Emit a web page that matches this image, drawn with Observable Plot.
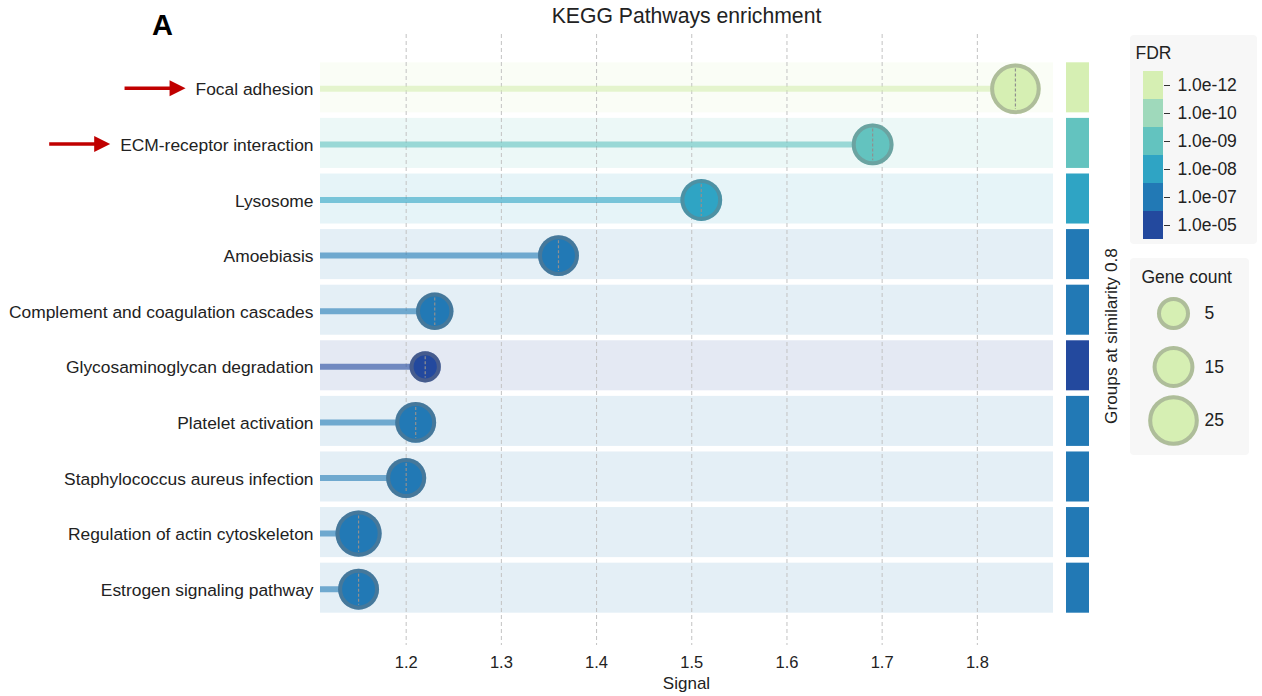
<!DOCTYPE html>
<html><head><meta charset="utf-8">
<script src="https://cdn.jsdelivr.net/npm/d3@7"></script>
<script src="https://cdn.jsdelivr.net/npm/@observablehq/plot@0.6"></script>
<style>
html,body{margin:0;padding:0;background:#fff;}
#wrap{position:relative;width:1262px;height:696px;overflow:hidden;background:#fff;font-family:"Liberation Sans",Arial,Helvetica,sans-serif;color:#222;}
#wrap > *{position:absolute;}
.box{background:#f7f7f7;border-radius:4px;}
.lt{font-size:17.5px;color:#222;white-space:nowrap;line-height:1;}
</style></head><body><div id="wrap"></div>
<script>
// ---------- data ----------
const pathways = ["Focal adhesion", "ECM-receptor interaction", "Lysosome", "Amoebiasis",
  "Complement and coagulation cascades", "Glycosaminoglycan degradation", "Platelet activation",
  "Staphylococcus aureus infection", "Regulation of actin cytoskeleton", "Estrogen signaling pathway"];
const signal = [1.84, 1.69, 1.51, 1.36, 1.23, 1.22, 1.21, 1.20, 1.15, 1.15];
const geneCount = [25, 15, 15, 14, 10, 3, 14, 13, 20, 14];
const fdr = ["1.0e-12", "1.0e-09", "1.0e-08", "1.0e-07", "1.0e-07", "1.0e-05", "1.0e-07", "1.0e-07", "1.0e-07", "1.0e-07"];
const fdrLabels = ["1.0e-12", "1.0e-10", "1.0e-09", "1.0e-08", "1.0e-07", "1.0e-05"];
const fdrColors = ["#d6efb3", "#9fd9bb", "#63c3bf", "#2fa4c4", "#2279b5", "#23499e"];
const xTicks = [1.2, 1.3, 1.4, 1.5, 1.6, 1.7, 1.8];
const xDomain = [1.11, 1.88];
const legendCounts = [5, 15, 25];
const highlighted = ["Focal adhesion", "ECM-receptor interaction"];
const titleText = "KEGG Pathways enrichment";
const panelLabel = "A";
const xLabel = "Signal";
const groupLabel = "Groups at similarity 0.8";

const rows = pathways.map((name, i) => ({name, signal: signal[i], count: geneCount[i], fdr: fdr[i]}));

// ---------- shared scales ----------
const W = 1262, H = 696;
const font = "Liberation Sans, Arial, Helvetica, sans-serif";
const yOpts = {domain: pathways, range: [62.3, 612.7], paddingInner: 0.1, paddingOuter: 0, align: 0.5, round: false};
const colorOpts = {type: "ordinal", domain: fdrLabels, range: fdrColors};
const rOpts = {type: "linear", domain: [0, 25], range: [14.3, 25.3]};
// ring drawn just inside the bubble edge, and dashed centre line
const ring = {draw(ctx, size) { const r = Math.max(0, Math.sqrt(size / Math.PI) - 2); ctx.moveTo(r, 0); ctx.arc(0, 0, r, 0, 2 * Math.PI); ctx.closePath(); }};
const vline = {draw(ctx, size) { const r = Math.max(0, Math.sqrt(size / Math.PI) - 5); ctx.moveTo(0, -r); ctx.lineTo(0, r); }};
const ringStroke = {stroke: "#767676", strokeOpacity: 0.42, strokeWidth: 4};

const wrap = document.getElementById("wrap");

// ---------- main chart ----------
const main = Plot.plot({
  width: W, height: H,
  marginLeft: 320, marginRight: 209, marginTop: 34, marginBottom: 51,
  style: {background: "transparent", color: "#222", fontFamily: font, fontSize: "17px", overflow: "visible"},
  x: {domain: xDomain},
  y: yOpts,
  color: colorOpts,
  r: rOpts,
  marks: [
    Plot.cell(rows, {y: "name", fill: "fdr", fillOpacity: 0.12}),
    Plot.gridX(xTicks, {stroke: "#c2c2c2", strokeOpacity: 1, strokeWidth: 1, strokeDasharray: "4,3"}),
    Plot.ruleY(rows, {y: "name", x1: xDomain[0], x2: "signal", stroke: "fdr", strokeOpacity: 0.6, strokeWidth: 6, dy: 1}),
    Plot.dot(rows, {x: "signal", y: "name", r: "count", fill: "fdr", stroke: "none", sort: null, dy: 1}),
    Plot.dot(rows, {x: "signal", y: "name", r: "count", symbol: ring, fill: "none", ...ringStroke, sort: null, dy: 1}),
    Plot.dot(rows, {x: "signal", y: "name", r: "count", symbol: vline, fill: "none", stroke: "#909090", strokeWidth: 1.2, strokeDasharray: "3,2", sort: null, dy: 1}),
    Plot.axisX(xTicks, {tickSize: 0, tickPadding: 11, fontSize: 16.5, label: null, tickFormat: d3.format(".1f")}),
    Plot.axisY({tickSize: 0, tickPadding: 7, fontSize: 17.4, label: null, dy: 2})
  ]
});
main.style.left = "0px"; main.style.top = "0px";
wrap.appendChild(main);

// ---------- group strip ----------
const strip = Plot.plot({
  width: 23, height: H, margin: 0,
  style: {background: "transparent"},
  x: {axis: null}, y: {...yOpts, axis: null}, color: colorOpts,
  marks: [Plot.cell(rows, {y: "name", fill: "fdr"})]
});
strip.style.left = "1066px"; strip.style.top = "0px";
wrap.appendChild(strip);

// ---------- FDR legend ----------
const fdrBox = document.createElement("div");
fdrBox.className = "box";
Object.assign(fdrBox.style, {left: "1130px", top: "35px", width: "127px", height: "209px"});
wrap.appendChild(fdrBox);
const fdrTitle = document.createElement("div");
fdrTitle.className = "lt"; fdrTitle.textContent = "FDR";
Object.assign(fdrTitle.style, {left: "1135.5px", top: "44.5px"});
wrap.appendChild(fdrTitle);
const fdrLeg = Plot.plot({
  width: 110, height: 168, marginLeft: 0, marginRight: 90, marginTop: 0, marginBottom: 0,
  style: {background: "transparent", color: "#222", fontFamily: font, overflow: "visible"},
  x: {axis: null},
  y: {type: "band", domain: fdrLabels, padding: 0, round: false},
  color: colorOpts,
  marks: [
    Plot.cell(fdrLabels, {y: d => d, fill: d => d}),
    Plot.axisY({anchor: "right", tickSize: 6, tickPadding: 8, fontSize: 17.5, label: null, stroke: "#333"})
  ]
});
fdrLeg.style.left = "1142.5px"; fdrLeg.style.top = "70.5px";
wrap.appendChild(fdrLeg);

// ---------- Gene count legend ----------
const gcBox = document.createElement("div");
gcBox.className = "box";
Object.assign(gcBox.style, {left: "1130px", top: "258px", width: "119px", height: "197px"});
wrap.appendChild(gcBox);
const gcTitle = document.createElement("div");
gcTitle.className = "lt"; gcTitle.textContent = "Gene count";
Object.assign(gcTitle.style, {left: "1141.5px", top: "268.5px"});
wrap.appendChild(gcTitle);
const gcLeg = Plot.plot({
  width: 119, height: 197, marginLeft: 0, marginRight: 33, marginTop: 0, marginBottom: 0,
  style: {background: "transparent", color: "#222", fontFamily: font, overflow: "visible"},
  x: {axis: null},
  y: {type: "point", domain: legendCounts, range: [55, 162], padding: 0, round: false, axis: null},
  r: rOpts,
  marks: [
    Plot.dot(legendCounts, {y: d => d, r: d => d, fill: fdrColors[0], stroke: "none"}),
    Plot.dot(legendCounts, {y: d => d, r: d => d, symbol: ring, fill: "none", ...ringStroke}),
    Plot.text(legendCounts, {y: d => d, text: d => String(d), dx: 31, textAnchor: "start", fontSize: 17.5, fill: "#222"})
  ]
});
gcLeg.style.left = "1130px"; gcLeg.style.top = "258px";
wrap.appendChild(gcLeg);

// ---------- annotations overlay ----------
const ov = d3.create("svg").attr("width", W).attr("height", H)
  .style("left", "0px").style("top", "0px").style("pointer-events", "none")
  .style("font-family", font);
ov.append("text").attr("x", 686.5).attr("y", 23.3).attr("text-anchor", "middle")
  .attr("font-size", 21.2).attr("fill", "#222").text(titleText);
ov.append("text").attr("x", 152).attr("y", 35).attr("font-size", 29).attr("font-weight", "bold")
  .attr("fill", "#000").text(panelLabel);
ov.append("text").attr("x", 686.5).attr("y", 689).attr("text-anchor", "middle")
  .attr("font-size", 17).attr("fill", "#222").text(xLabel);
ov.append("text").attr("transform", "translate(1117,336) rotate(-90)").attr("text-anchor", "middle")
  .attr("font-size", 17.2).attr("fill", "#222").text(groupLabel);
wrap.appendChild(ov.node());

// red arrows pointing at highlighted labels
const ys = main.scale("y");
const wr = wrap.getBoundingClientRect();
const labels = main.querySelectorAll('g[aria-label="y-axis tick label"] text');
labels.forEach(t => {
  const name = t.textContent;
  if (!highlighted.includes(name)) return;
  const b = t.getBoundingClientRect();
  const tip = b.left - wr.left - 10;
  const tail = tip - 61;
  const y = ys.apply(name) + ys.bandwidth / 2 + 1;
  ov.append("line").attr("x1", tail).attr("x2", tip - 14).attr("y1", y).attr("y2", y)
    .attr("stroke", "#c00000").attr("stroke-width", 3.5);
  ov.append("path").attr("d", `M${tip},${y}L${tip - 16},${y - 8}L${tip - 16},${y + 8}Z`).attr("fill", "#c00000");
});
</script></body></html>
